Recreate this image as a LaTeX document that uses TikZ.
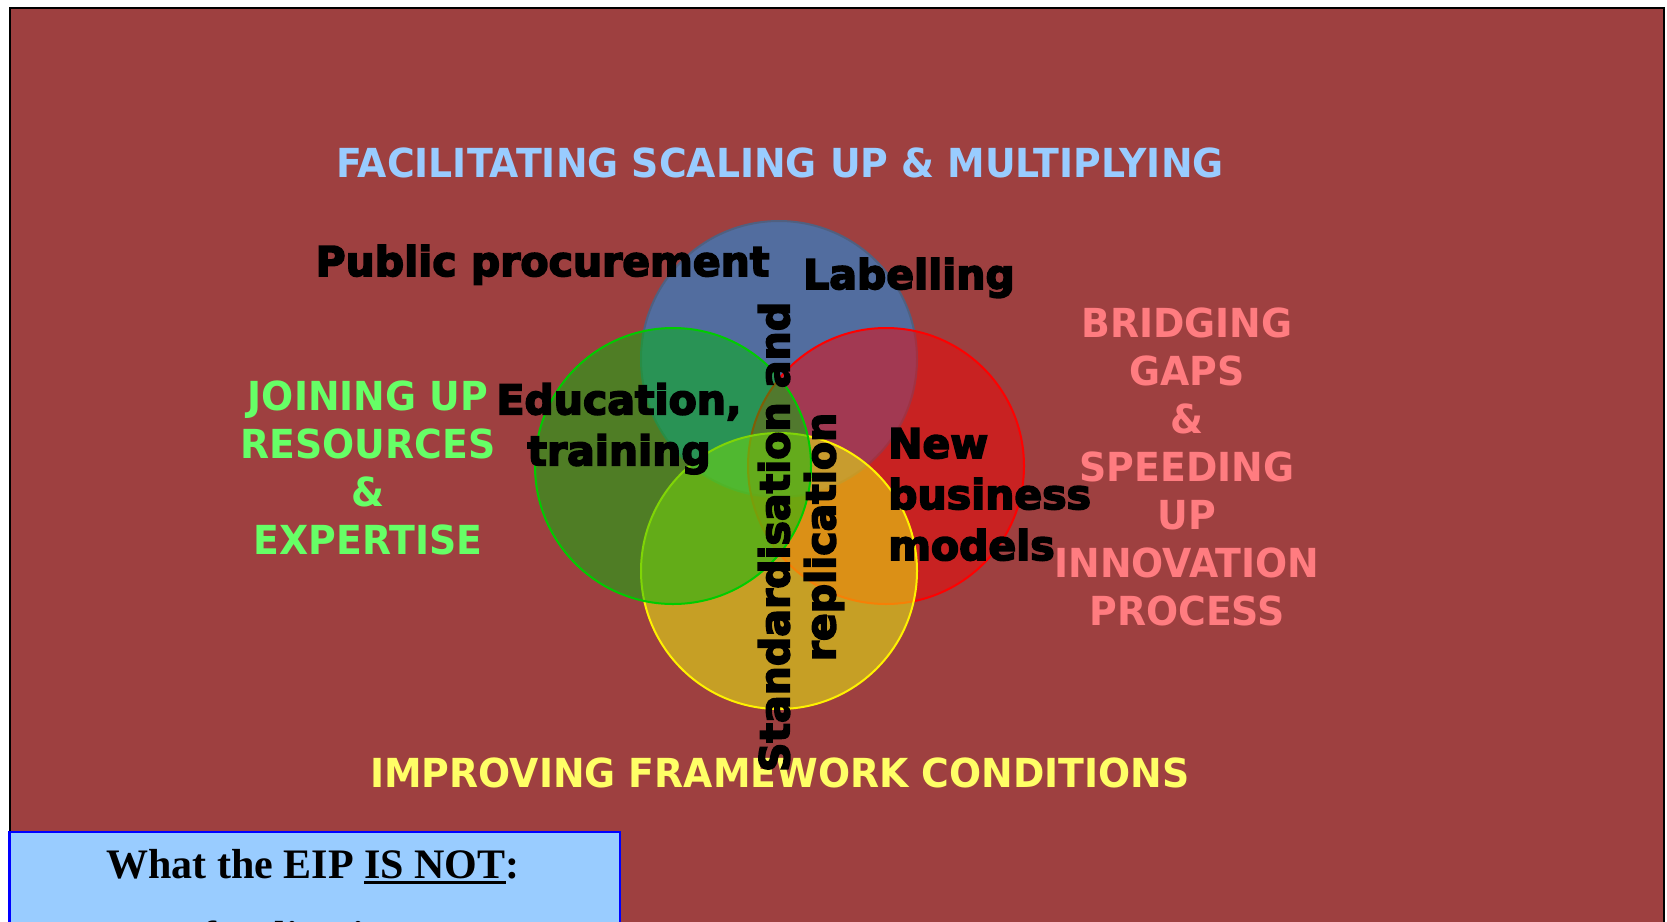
\documentclass[tikz,border=0pt]{standalone}
\usepackage{fontspec}
\newfontfamily\tahomafont{DejaVu Sans}[FakeStretch=0.945]
\newfontfamily\blackfont{DejaVu Sans}[BoldFeatures={FakeBold=4}]
\newfontfamily\timesfont{Liberation Serif}
\usetikzlibrary{positioning}
\definecolor{slide}{RGB}{158,64,64}
\definecolor{ringblue}{RGB}{57,125,192}
\definecolor{ringblueline}{RGB}{80,96,128}
\definecolor{ringred}{RGB}{242,6,6}
\definecolor{ringyellow}{RGB}{238,255,12}
\definecolor{ringgreen}{RGB}{2,186,12}
\definecolor{ringgreenline}{RGB}{0,204,0}
\definecolor{titleblue}{RGB}{153,204,255}
\definecolor{joingreen}{RGB}{102,255,102}
\definecolor{bridgepink}{RGB}{255,124,128}
\definecolor{frameyellow}{RGB}{255,255,102}
\definecolor{notfill}{RGB}{153,204,255}
\newcommand\thickul[1]{\setbox0\hbox{#1}\rlap{\rule[-6pt]{\wd0}{2.8pt}}\box0}

\begin{document}
\begin{tikzpicture}[x=1pt, y=-1pt,
        heading/.style={font=\tahomafont\bfseries\fontsize{40}{48}\selectfont, inner sep=0pt, align=center},
        word/.style={font=\blackfont\bfseries\fontsize{41}{51}\selectfont, text=black, inner sep=0pt},
        ring/.style={line width=2pt, fill opacity=0.5}]
    \useasboundingbox (0,0) rectangle (1667,921);
    \clip (0,0) rectangle (1667,921);
    \fill[white] (0,0) rectangle (1667,921);
    \draw[line width=2pt, fill=slide] (9.5,7.5) rectangle (1664,940);

    % the four circles
    \filldraw[ring, fill=ringblue, draw=ringblueline, fill opacity=0.75] (779,359) circle (138);
    \filldraw[ring, fill=ringred, draw=red] (886,466) circle (138);
    \filldraw[ring, fill=ringyellow, draw=yellow] (779,571) circle (138);
    \filldraw[ring, fill=ringgreen, draw=ringgreenline] (673,466) circle (138);

    \node[heading, text=titleblue, anchor=base] (scaling) at (780,177) {FACILITATING SCALING UP \& MULTIPLYING};
    \node[heading, text=joingreen, anchor=north] (joining) at (368,381) {JOINING UP\\RESOURCES\\\&\\EXPERTISE};
    \node[heading, text=bridgepink, anchor=north] (bridging) at (1187,308) {BRIDGING\\GAPS\\\&\\SPEEDING\\UP\\INNOVATION\\PROCESS};
    \node[heading, text=frameyellow, anchor=base] (improving) at (780,787) {IMPROVING FRAMEWORK CONDITIONS};

    \node[word, anchor=base] (procurement) at (542.5,276) {Public procurement};
    \node[word, anchor=base] (labelling) at (909,289) {Labelling};
    \node[word, align=center, anchor=north] (education) at (619,383) {Education,\\training};
    \node[word, align=left, anchor=north west] (business) at (888,428) {New\\business\\models};
    \node[word, align=center, rotate=90, font=\blackfont\bfseries\fontsize{41}{46}\selectfont] (standard) at (801,537) {Standardisation and\\replication};

    % box at the bottom
    \draw[line width=2.5pt, draw=blue, fill=notfill] (9.5,832) rectangle (620,940);
    \node[font=\timesfont\bfseries\fontsize{42}{50}\selectfont, anchor=base, inner sep=0pt] (isnot) at (313,878) {What the EIP \thickul{IS NOT}:};
    \node[font=\timesfont\bfseries\fontsize{42}{50}\selectfont, anchor=base west, inner sep=0pt] (funding) at (202,950) {funding instrument};
\end{tikzpicture}
\end{document}
